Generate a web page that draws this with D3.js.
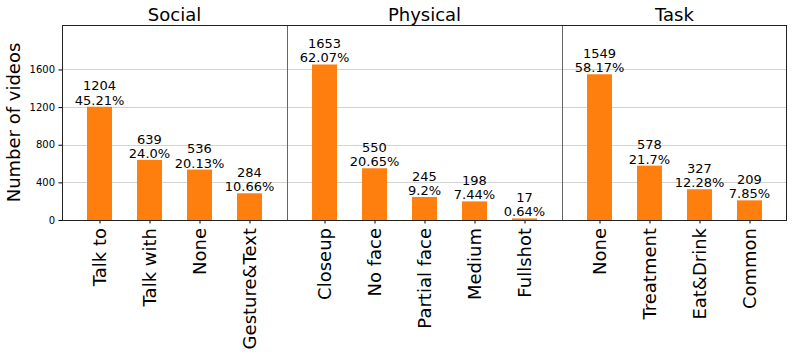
<!DOCTYPE html>
<html>
<head>
<meta charset="utf-8">
<script src="https://cdn.jsdelivr.net/npm/d3@7"></script>
<style>
	body { margin: 0; background: #fff; }
	text { font-family: "DejaVu Sans", sans-serif; fill: #000; }
</style>
</head>
<body>
<div id="chart"></div>
<script>
// data
var groupNames = ["Social", "Physical", "Task"];

var socialLabels = ["Talk to", "Talk with", "None", "Gesture&Text"];
var socialCounts = [1204, 639, 536, 284];
var socialPct = [45.21, 24.0, 20.13, 10.66];

var physicalLabels = ["Closeup", "No face", "Partial face", "Medium", "Fullshot"];
var physicalCounts = [1653, 550, 245, 198, 17];
var physicalPct = [62.07, 20.65, 9.2, 7.44, 0.64];

var taskLabels = ["None", "Treatment", "Eat&Drink", "Common"];
var taskCounts = [1549, 578, 327, 209];
var taskPct = [58.17, 21.7, 12.28, 7.85];

var yTicks = [0, 400, 800, 1200, 1600];

var groups = [
	{name: groupNames[0], labels: socialLabels, counts: socialCounts, pct: socialPct},
	{name: groupNames[1], labels: physicalLabels, counts: physicalCounts, pct: physicalPct},
	{name: groupNames[2], labels: taskLabels, counts: taskCounts, pct: taskPct}
];

// python-like float to string (24.0 stays "24.0")
function pyFloat(v) {
	return Number.isInteger(v) ? v.toFixed(1) : String(v);
}

var W = 794, H = 359;
var margin = {top: 25, right: 7, bottom: 139, left: 62};
var width = W - margin.left - margin.right;
var height = H - margin.top - margin.bottom;

var svg = d3.select("#chart").append("svg")
	.attr("width", W)
	.attr("height", H);

var g = svg.append("g")
	.attr("transform", "translate(" + margin.left + "," + margin.top + ")");

var allCounts = [].concat(socialCounts, physicalCounts, taskCounts);
var y = d3.scaleLinear()
	.domain([0, d3.max(allCounts) * 1.254])
	.range([height, 0]);

// each group spans n + 0.5 units (0.75 padding on both sides)
var totalUnits = d3.sum(groups, function(d) { return d.labels.length + 0.5; });
var unit = d3.scaleLinear().domain([0, totalUnits]).range([0, width]);

var offset = 0;
groups.forEach(function(grp) {
	var n = grp.labels.length;
	grp.x0 = unit(offset);
	grp.x1 = unit(offset + n + 0.5);
	grp.x = d3.scaleLinear().domain([-0.75, n - 0.25]).range([grp.x0, grp.x1]);
	offset += n + 0.5;
});

// grid
g.append("g").selectAll("line")
	.data(yTicks.slice(1))
	.enter().append("line")
	.attr("x1", 0).attr("x2", width)
	.attr("y1", function(d) { return Math.round(y(d)) + 0.5; })
	.attr("y2", function(d) { return Math.round(y(d)) + 0.5; })
	.attr("stroke", "#d3d3d3")
	.attr("stroke-width", 1);

var barW = 0.5;

groups.forEach(function(grp, gi) {
	var gx = grp.x;
	var data = grp.labels.map(function(l, i) {
		return {label: l, count: grp.counts[i], pct: grp.pct[i], i: i};
	});

	g.append("g").selectAll("rect")
		.data(data)
		.enter().append("rect")
		.attr("x", function(d) { return gx(d.i - barW / 2); })
		.attr("width", function(d) { return gx(barW) - gx(0); })
		.attr("y", function(d) { return y(d.count); })
		.attr("height", function(d) { return height - y(d.count); })
		.attr("fill", "#ff7f0e");

	// value labels
	var lab = g.append("g").selectAll("text")
		.data(data)
		.enter().append("text")
		.attr("text-anchor", "middle")
		.style("font-size", "13px")
		.attr("x", function(d) { return gx(d.i); })
		.attr("y", function(d) { return y(d.count) - 2; });
	lab.append("tspan")
		.attr("x", function(d) { return gx(d.i); })
		.attr("dy", "-1.1em")
		.text(function(d) { return d.count; });
	lab.append("tspan")
		.attr("x", function(d) { return gx(d.i); })
		.attr("dy", "1.1em")
		.text(function(d) { return pyFloat(d.pct) + "%"; });

	// x axis per group
	var xAxis = d3.axisBottom(gx)
		.tickValues(d3.range(grp.labels.length))
		.tickFormat(function(i) { return grp.labels[i]; })
		.tickSize(3.5)
		.tickPadding(4);
	var ax = g.append("g")
		.attr("transform", "translate(0," + height + ")")
		.call(xAxis);
	ax.select(".domain").remove();
	ax.selectAll(".tick line").attr("stroke", "#000");
	ax.selectAll(".tick text")
		.attr("transform", "rotate(-90)")
		.attr("text-anchor", "end")
		.attr("x", -8)
		.attr("y", 0)
		.attr("dy", "0.35em")
		.style("font-size", "18px")
		.style("font-family", "DejaVu Sans");

	// title
	g.append("text")
		.attr("x", (grp.x0 + grp.x1) / 2)
		.attr("y", -4)
		.attr("text-anchor", "middle")
		.style("font-size", "18px")
		.text(grp.name);

	// separator
	if (gi > 0) {
		g.append("line")
			.attr("x1", Math.round(grp.x0) + 0.5).attr("x2", Math.round(grp.x0) + 0.5)
			.attr("y1", 0).attr("y2", height)
			.attr("stroke", "#666")
			.attr("stroke-width", 1);
	}
});

// y axis
var yAxis = d3.axisLeft(y).tickValues(yTicks).tickFormat(d3.format("d"))
	.tickSize(3.5).tickPadding(3.5);
var yg = g.append("g").call(yAxis);
yg.select(".domain").remove();
yg.selectAll(".tick text").style("font-size", "10px").style("font-family", "DejaVu Sans");
yg.selectAll(".tick line").attr("stroke", "#000");

// frame
g.append("rect")
	.attr("x", 0.5).attr("y", 0.5)
	.attr("width", width - 1).attr("height", height)
	.attr("fill", "none")
	.attr("stroke", "#222")
	.attr("stroke-width", 1);

// y label
svg.append("text")
	.attr("transform", "translate(20," + (margin.top + height / 2) + ") rotate(-90)")
	.attr("text-anchor", "middle")
	.style("font-size", "18px")
	.text("Number of videos");
</script>
</body>
</html>
